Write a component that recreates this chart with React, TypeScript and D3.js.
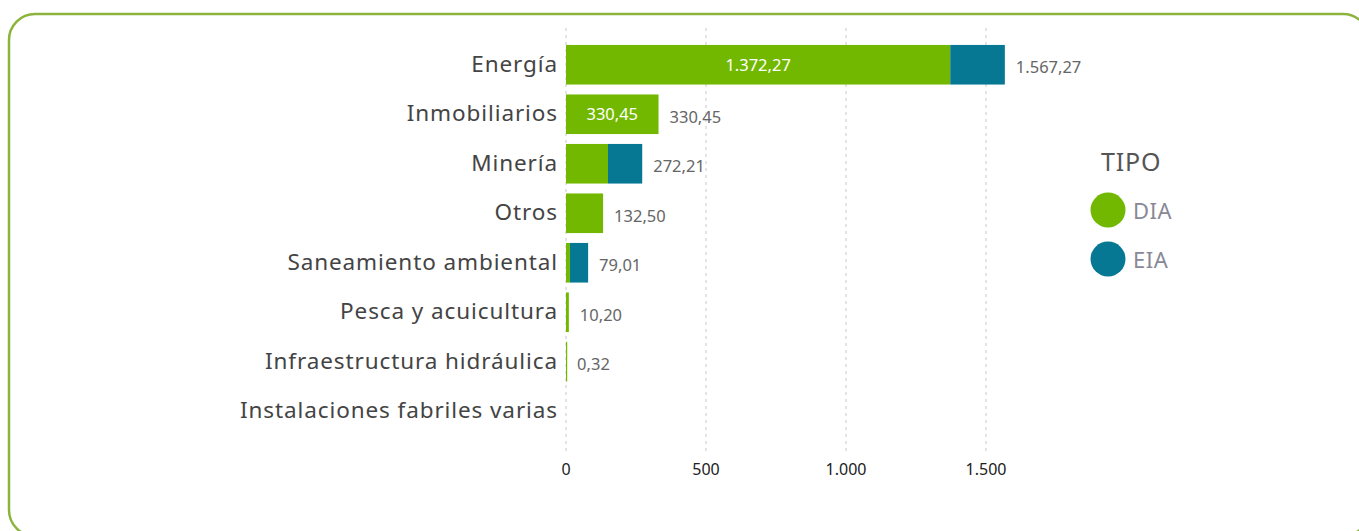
import { useEffect, useRef } from 'react';
import * as d3 from 'd3';

const categories = [
  'Energía',
  'Inmobiliarios',
  'Minería',
  'Otros',
  'Saneamiento ambiental',
  'Pesca y acuicultura',
  'Infraestructura hidráulica',
  'Instalaciones fabriles varias',
];
const diaValues = [1372.27, 330.45, 150, 132.5, 14, 10.2, 0.32, 0];
const eiaValues = [195, 0, 122.21, 0, 65.01, 0, 0, 0];
const seriesNames = ['DIA', 'EIA'];
const xTicks = [0, 500, 1000, 1500];

const GREEN = '#72b800';
const BLUE = '#077893';

const locale = d3.formatLocale({
  decimal: ',',
  thousands: '.',
  grouping: [3],
  currency: ['', ''],
});
const fmtVal = locale.format(',.2f');
const fmtTick = locale.format(',.0f');

export default function App() {
  const svgRef = useRef<SVGSVGElement>(null);

  useEffect(() => {
    if (!svgRef.current) return;
    const width = 1359;
    const height = 531;
    const svg = d3.select(svgRef.current);
    svg.selectAll('*').remove();
    svg.attr('width', width).attr('height', height);

    const font = "'Noto Sans', sans-serif";

    // frame
    svg
      .append('rect')
      .attr('x', 9)
      .attr('y', 14)
      .attr('width', 1360)
      .attr('height', 522)
      .attr('rx', 26)
      .attr('fill', 'none')
      .attr('stroke', '#8cb43c')
      .attr('stroke-width', 2.5);

    const x = d3.scaleLinear().domain([0, 1500]).range([566, 986]);
    const y = d3
      .scaleBand()
      .domain(categories)
      .range([40, 436])
      .paddingInner(0.2)
      .paddingOuter(0.1);

    // grid
    svg
      .append('g')
      .selectAll('line')
      .data(xTicks)
      .enter()
      .append('line')
      .attr('x1', (d) => x(d))
      .attr('x2', (d) => x(d))
      .attr('y1', 28)
      .attr('y2', 452)
      .attr('stroke', '#c8c8c8')
      .attr('stroke-dasharray', '3,4');

    // x tick labels
    svg
      .append('g')
      .selectAll('text')
      .data(xTicks)
      .enter()
      .append('text')
      .attr('x', (d) => x(d))
      .attr('y', 475)
      .attr('text-anchor', 'middle')
      .attr('font-family', font)
      .attr('font-size', 16)
      .attr('fill', '#222')
      .text((d) => fmtTick(d));

    const rows = categories.map((c, i) => ({
      c,
      dia: diaValues[i],
      eia: eiaValues[i],
      total: diaValues[i] + eiaValues[i],
    }));

    const g = svg.append('g');
    const w = (a: number, b: number) => (b > a ? Math.max(1.2, x(b) - x(a)) : 0);

    // DIA bars
    g.selectAll('rect.dia')
      .data(rows)
      .enter()
      .append('rect')
      .attr('class', 'dia')
      .attr('x', x(0))
      .attr('y', (d) => y(d.c)!)
      .attr('width', (d) => w(0, d.dia))
      .attr('height', y.bandwidth())
      .attr('fill', GREEN);

    // EIA bars
    g.selectAll('rect.eia')
      .data(rows)
      .enter()
      .append('rect')
      .attr('class', 'eia')
      .attr('x', (d) => x(d.dia))
      .attr('y', (d) => y(d.c)!)
      .attr('width', (d) => w(d.dia, d.total))
      .attr('height', y.bandwidth())
      .attr('fill', BLUE);

    // inside labels for wide DIA segments
    g.selectAll('text.inside')
      .data(rows.filter((d) => x(d.dia) - x(0) > 80))
      .enter()
      .append('text')
      .attr('class', 'inside')
      .attr('x', (d) => (x(0) + x(d.dia)) / 2)
      .attr('y', (d) => y(d.c)! + y.bandwidth() / 2 + 6)
      .attr('text-anchor', 'middle')
      .attr('font-family', font)
      .attr('font-size', 16.5)
      .attr('fill', '#fff')
      .text((d) => fmtVal(d.dia));

    // total labels
    g.selectAll('text.total')
      .data(rows.filter((d) => d.total > 0))
      .enter()
      .append('text')
      .attr('class', 'total')
      .attr('x', (d) => x(d.total) + 11)
      .attr('y', (d) => y(d.c)! + y.bandwidth() / 2 + 8.5)
      .attr('font-family', font)
      .attr('font-size', 16.5)
      .attr('fill', '#666')
      .text((d) => fmtVal(d.total));

    // category labels
    g.selectAll('text.cat')
      .data(categories)
      .enter()
      .append('text')
      .attr('class', 'cat')
      .attr('x', 558)
      .attr('y', (d) => y(d)! + y.bandwidth() / 2 + 7)
      .attr('text-anchor', 'end')
      .attr('font-family', font)
      .attr('font-size', 22.5)
      .attr('letter-spacing', 0.9)
      .attr('fill', '#444')
      .text((d) => d);

    // legend
    const lg = svg.append('g');
    lg.append('text')
      .attr('x', 1101)
      .attr('y', 171)
      .attr('font-family', font)
      .attr('font-size', 25)
      .attr('letter-spacing', 0.8)
      .attr('fill', '#555')
      .text('TIPO');
    const items = lg
      .selectAll('g.item')
      .data(seriesNames)
      .enter()
      .append('g')
      .attr('transform', (_d, i) => `translate(0,${i * 49})`);
    items
      .append('circle')
      .attr('cx', 1108)
      .attr('cy', 210)
      .attr('r', 17.5)
      .attr('fill', (_d, i) => (i === 0 ? GREEN : BLUE));
    items
      .append('text')
      .attr('x', 1133)
      .attr('y', 219)
      .attr('font-family', font)
      .attr('font-size', 22)
      .attr('letter-spacing', 0.5)
      .attr('fill', '#888896')
      .text((d) => d);
  }, []);

  return (
    <div style={{ position: 'absolute', left: 0, top: 0 }}>
      <svg ref={svgRef} style={{ display: 'block' }} />
    </div>
  );
}
